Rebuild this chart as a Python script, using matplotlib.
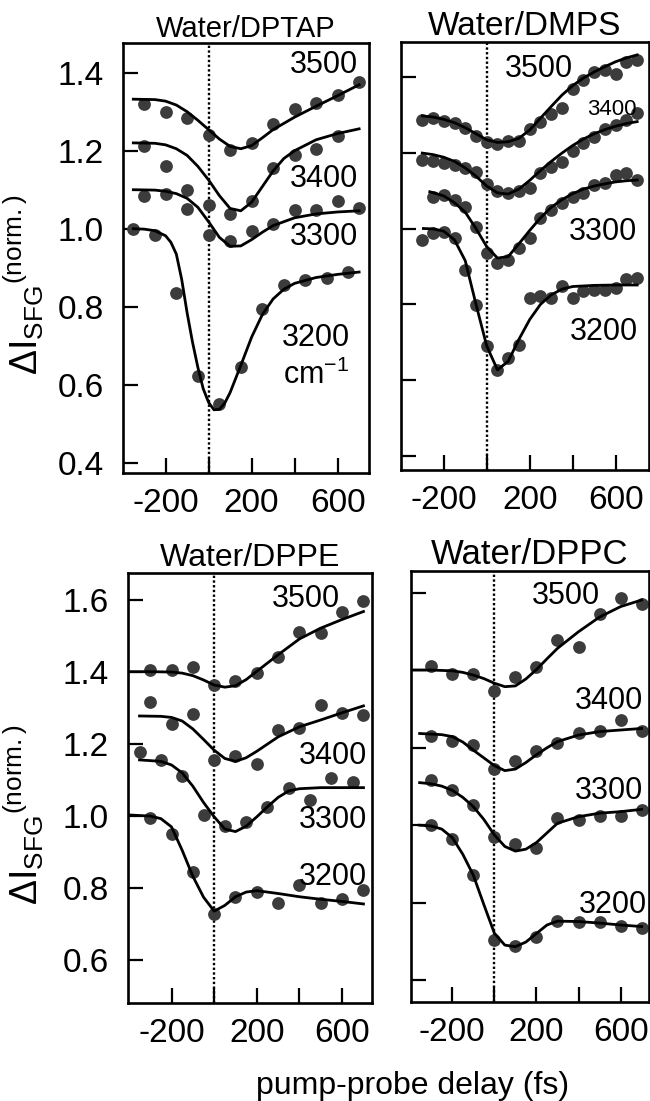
import matplotlib
matplotlib.use("Agg")
import matplotlib.pyplot as plt

plt.rcParams['font.family'] = ['Liberation Sans', 'DejaVu Sans']
plt.rcParams['mathtext.fontset'] = 'custom'
plt.rcParams['mathtext.rm'] = 'Liberation Sans'
plt.rcParams['mathtext.it'] = 'Liberation Sans'

# ---------------- Water/DPTAP ----------------
dptap_t = [-300, -200, -100, 0, 100, 200, 300, 400, 500, 600, 700]
dptap_t_3400 = [-300, -200, -100, 0, 100, 200, 300, 400, 500, 600]
dptap_t_3200 = [-350, -250, -150, -50, 50, 150, 250, 350, 450, 550, 650]
dptap_3500 = [1.320, 1.298, 1.284, 1.241, 1.203, 1.221, 1.268, 1.308, 1.322, 1.344, 1.376]
dptap_3400 = [1.211, 1.162, 1.100, 1.062, 1.038, 1.070, 1.156, 1.190, 1.204, 1.237]
dptap_3300 = [1.085, 1.090, 1.050, 0.983, 0.968, 0.993, 1.013, 1.049, 1.049, 1.070, 1.053]
dptap_3200 = [0.999, 0.985, 0.835, 0.623, 0.551, 0.645, 0.794, 0.855, 0.868, 0.875, 0.888]

dptap_fit_t_3500 = [-350, -250, -200, -150, -100, -50, 0, 50, 100, 150, 200, 250, 300, 400, 500, 600, 700]
dptap_fit_3500 = [1.332, 1.331, 1.327, 1.317, 1.300, 1.278, 1.254, 1.230, 1.211, 1.205, 1.213, 1.233, 1.254, 1.286, 1.314, 1.341, 1.369]
dptap_fit_t_3400 = [-350, -250, -200, -150, -100, -50, 0, 50, 100, 150, 200, 250, 300, 350, 400, 500, 600, 700]
dptap_fit_3400 = [1.220, 1.219, 1.215, 1.205, 1.188, 1.160, 1.125, 1.085, 1.052, 1.046, 1.068, 1.108, 1.148, 1.180, 1.200, 1.228, 1.244, 1.256]
dptap_fit_t_3300 = [-350, -250, -200, -150, -100, -50, 0, 50, 100, 150, 200, 250, 300, 400, 500, 600, 700]
dptap_fit_3300 = [1.100, 1.099, 1.096, 1.090, 1.078, 1.055, 1.018, 0.978, 0.955, 0.956, 0.972, 0.991, 1.008, 1.028, 1.038, 1.043, 1.046]
dptap_fit_t_3200 = [-350, -300, -250, -200, -175, -150, -125, -100, -75, -50, -25, 0, 25, 50, 75, 100, 150,
                    200, 250, 300, 350, 400, 500, 600, 700]
dptap_fit_3200 = [1.000, 0.999, 0.995, 0.982, 0.965, 0.935, 0.870, 0.785, 0.710, 0.645, 0.590, 0.555, 0.536, 0.537,
                  0.553, 0.580, 0.650, 0.722, 0.780, 0.820, 0.845, 0.860, 0.875, 0.883, 0.889]

# ---------------- Water/DMPS ----------------
dmps_t = [-300, -250, -200, -150, -100, -50, 0, 50, 100, 150, 200, 250, 300, 350, 400, 450, 500, 550, 600, 650, 700]
dmps_t_3300 = [-250, -200, -150, -100, -50, 0, 50, 100, 150, 200, 250, 300, 350, 400, 450, 500, 550, 600, 650, 700]
dmps_3500 = [1.285, 1.292, 1.283, 1.278, 1.265, 1.245, 1.228, 1.222, 1.232, 1.232, 1.262, 1.282, 1.302, 1.318, 1.368, 1.392, 1.412, 1.418, 1.408, 1.440, 1.445]
dmps_3400 = [1.181, 1.177, 1.172, 1.168, 1.159, 1.150, 1.118, 1.100, 1.093, 1.100, 1.106, 1.146, 1.163, 1.175, 1.205, 1.225, 1.242, 1.262, 1.272, 1.285, 1.305]
dmps_3300 = [1.084, 1.089, 1.075, 1.058, 1.005, 0.935, 0.908, 0.917, 0.948, 0.974, 1.027, 1.049, 1.067, 1.084, 1.093, 1.115, 1.119, 1.141, 1.146, 1.128]
dmps_3200 = [0.970, 0.988, 0.992, 0.974, 0.891, 0.798, 0.690, 0.628, 0.659, 0.694, 0.817, 0.821, 0.817, 0.848, 0.817, 0.835, 0.839, 0.839, 0.844, 0.866, 0.870]

dmps_fit_t = [-300, -250, -200, -150, -100, -50, 0, 50, 100, 150, 200, 250, 300, 350, 400, 450, 500, 550, 600, 650, 700]
dmps_fit_3500 = [1.297, 1.294, 1.288, 1.279, 1.266, 1.250, 1.234, 1.227, 1.229, 1.238, 1.260, 1.291, 1.322, 1.352, 1.377, 1.397, 1.413, 1.427, 1.440, 1.450, 1.458]
dmps_fit_3400 = [1.199, 1.195, 1.188, 1.177, 1.160, 1.138, 1.112, 1.094, 1.091, 1.104, 1.127, 1.153, 1.177, 1.199, 1.219, 1.236, 1.250, 1.261, 1.270, 1.277, 1.282]
dmps_fit_t_3300 = [-265, -200, -150, -100, -50, 0, 50, 100, 150, 200, 250, 300, 350, 400, 450, 500, 550, 600, 650, 700]
dmps_fit_3300 = [1.097, 1.086, 1.068, 1.043, 1.000, 0.952, 0.922, 0.926, 0.960, 0.995, 1.028, 1.056, 1.076, 1.092, 1.104, 1.112, 1.118, 1.123, 1.126, 1.128]
dmps_fit_t_3200 = [-295, -250, -200, -150, -100, -50, 0, 50, 100, 150, 200, 250, 300, 350, 400, 500, 600, 700]
dmps_fit_3200 = [1.000, 0.999, 0.993, 0.970, 0.915, 0.800, 0.690, 0.627, 0.650, 0.708, 0.760, 0.800, 0.825, 0.840, 0.847, 0.850, 0.851, 0.851]

# ---------------- Water/DPPE ----------------
dppe_t = [-300, -200, -100, 0, 100, 200, 300, 400, 500, 600, 700]
dppe_t_3300 = [-350, -250, -150, -50, 50, 150, 250, 350, 450, 550, 650]
dppe_3500 = [1.406, 1.406, 1.413, 1.364, 1.376, 1.398, 1.441, 1.512, 1.509, 1.566, 1.598]
dppe_3400 = [1.318, 1.256, 1.283, 1.157, 1.167, 1.144, 1.239, 1.244, 1.308, 1.287, 1.281]
dppe_3300 = [1.177, 1.156, 1.111, 1.003, 0.972, 0.984, 1.026, 1.077, 1.046, 1.105, 1.095]
dppe_3200 = [0.994, 0.950, 0.844, 0.728, 0.774, 0.788, 0.759, 0.808, 0.758, 0.771, 0.794]

dppe_fit_t_3500 = [-395, -300, -200, -150, -100, -50, 0, 50, 100, 150, 200, 250, 300, 400, 500, 600, 700]
dppe_fit_3500 = [1.401, 1.401, 1.400, 1.397, 1.390, 1.378, 1.364, 1.358, 1.362, 1.379, 1.402, 1.425, 1.448, 1.492, 1.522, 1.546, 1.568]
dppe_fit_t_3400 = [-350, -250, -200, -150, -100, -50, 0, 50, 100, 150, 200, 250, 300, 400, 500, 600, 700]
dppe_fit_3400 = [1.278, 1.277, 1.274, 1.264, 1.242, 1.213, 1.183, 1.160, 1.152, 1.162, 1.180, 1.200, 1.220, 1.248, 1.267, 1.287, 1.306]
dppe_fit_t_3300 = [-350, -250, -200, -150, -100, -50, 0, 50, 100, 150, 200, 250, 300, 350, 400, 500, 600, 700]
dppe_fit_3300 = [1.156, 1.152, 1.142, 1.120, 1.083, 1.038, 0.998, 0.964, 0.957, 0.972, 0.998, 1.026, 1.052, 1.070, 1.076, 1.079, 1.079, 1.079]
dppe_fit_t_3200 = [-395, -300, -250, -200, -150, -100, -50, 0, 50, 100, 150, 200, 300, 400, 500, 600, 700]
dppe_fit_3200 = [1.003, 1.000, 0.993, 0.970, 0.905, 0.833, 0.775, 0.736, 0.752, 0.776, 0.789, 0.793, 0.785, 0.776, 0.769, 0.763, 0.756]

# ---------------- Water/DPPC ----------------
dppc_t = [-300, -200, -100, 0, 100, 200, 300, 400, 500, 600, 700]
dppc_3500 = [1.411, 1.390, 1.392, 1.347, 1.384, 1.408, 1.479, 1.460, 1.547, 1.586, 1.572]
dppc_3400 = [1.230, 1.218, 1.207, 1.144, 1.167, 1.193, 1.213, 1.239, 1.244, 1.272, 1.244]
dppc_3300 = [1.117, 1.091, 1.052, 0.970, 0.951, 0.940, 1.018, 1.013, 1.024, 1.024, 1.038]
dppc_3200 = [1.000, 0.965, 0.871, 0.703, 0.687, 0.712, 0.753, 0.751, 0.751, 0.740, 0.734]

dppc_fit_t_3500 = [-395, -300, -200, -150, -100, -50, 0, 50, 100, 150, 200, 250, 300, 400, 500, 600, 700]
dppc_fit_3500 = [1.401, 1.401, 1.399, 1.395, 1.388, 1.379, 1.367, 1.358, 1.360, 1.378, 1.402, 1.430, 1.457, 1.500, 1.538, 1.565, 1.582]
dppc_fit_t_3400 = [-355, -250, -200, -150, -100, -50, 0, 50, 100, 150, 200, 250, 300, 400, 500, 600, 700]
dppc_fit_3400 = [1.237, 1.234, 1.229, 1.215, 1.194, 1.174, 1.154, 1.141, 1.145, 1.162, 1.182, 1.200, 1.216, 1.233, 1.242, 1.246, 1.250]
dppc_fit_t = [-355, -300, -250, -200, -150, -100, -50, 0, 50, 100, 150, 200, 250, 300, 400, 500, 600, 700]
dppc_fit_3300 = [1.110, 1.107, 1.101, 1.090, 1.072, 1.048, 1.015, 0.975, 0.945, 0.933, 0.938, 0.955, 0.980, 1.005, 1.022, 1.031, 1.035, 1.041]
dppc_fit_3200 = [1.000, 0.998, 0.990, 0.968, 0.925, 0.871, 0.795, 0.721, 0.690, 0.686, 0.698, 0.720, 0.742, 0.752, 0.751, 0.747, 0.742, 0.738]

freq_labels = ['3500', '3400', '3300', '3200']
x_ticks = [-200, 0, 200, 400, 600]
x_tick_labels = ['-200', '', '200', '', '600']

W, H = 650, 1101
fig = plt.figure(figsize=(W / 100, H / 100), dpi=100)


def px_axes(x0, y0, x1, y1):
    return fig.add_axes([x0 / W, 1 - y1 / H, (x1 - x0) / W, (y1 - y0) / H])


dot_color = '#3c3c3c'


def draw_panel(ax, series, fits, xlim, ylim, yticks, show_ylabels):
    for t, v in series:
        ax.plot(t, v, 'o', color=dot_color, ms=9.2, mec='none', zorder=2)
    for t, v in fits:
        ax.plot(t, v, '-', color='black', lw=2.0, zorder=3)
    ax.axvline(0, color='black', lw=1.7, ls=(0, (1, 1)), zorder=1)
    ax.set_xlim(*xlim)
    ax.set_ylim(*ylim)
    ax.set_xticks(x_ticks)
    ax.set_xticklabels(x_tick_labels)
    ax.set_yticks(yticks)
    if show_ylabels:
        ax.set_yticklabels(['%.1f' % y for y in yticks])
    else:
        ax.set_yticklabels([])
    ax.tick_params(direction='in', length=11, width=1.6, labelsize=24)
    ax.tick_params(axis='x', pad=11)
    ax.tick_params(axis='y', pad=14)
    for s in ax.spines.values():
        s.set_linewidth(1.9)


# top-left
ax1 = px_axes(123, 43, 369, 473)
draw_panel(ax1,
           [(dptap_t, dptap_3500), (dptap_t_3400, dptap_3400), (dptap_t, dptap_3300), (dptap_t_3200, dptap_3200)],
           [(dptap_fit_t_3500, dptap_fit_3500), (dptap_fit_t_3400, dptap_fit_3400),
            (dptap_fit_t_3300, dptap_fit_3300), (dptap_fit_t_3200, dptap_fit_3200)],
           (-398, 746), (0.374, 1.476), [0.4, 0.6, 0.8, 1.0, 1.2, 1.4], True)
ax1.text(693, 1.42, freq_labels[0], ha='right', va='center', fontsize=22)
ax1.text(693, 1.128, freq_labels[1], ha='right', va='center', fontsize=22)
ax1.text(693, 0.978, freq_labels[2], ha='right', va='center', fontsize=22)
ax1.text(656, 0.719, freq_labels[3], ha='right', va='center', fontsize=22)
ax1.text(656, 0.625, 'cm$^{\\mathregular{-1}}$', ha='right', va='center', fontsize=22)
ax1.set_title('Water/DPTAP', fontsize=21, pad=4)

# top-right
ax2 = px_axes(401, 42, 649, 470)
draw_panel(ax2,
           [(dmps_t, dmps_3500), (dmps_t, dmps_3400), (dmps_t_3300, dmps_3300), (dmps_t, dmps_3200)],
           [(dmps_fit_t, dmps_fit_3500), (dmps_fit_t, dmps_fit_3400),
            (dmps_fit_t_3300, dmps_fit_3300), (dmps_fit_t_3200, dmps_fit_3200)],
           (-399, 755), (0.363, 1.492), [0.4, 0.6, 0.8, 1.0, 1.2, 1.4], False)
ax2.text(401, 1.421, freq_labels[0], ha='right', va='center', fontsize=22)
ax2.text(698, 1.313, freq_labels[1], ha='right', va='center', fontsize=16)
ax2.text(700, 0.992, freq_labels[2], ha='right', va='center', fontsize=22)
ax2.text(705, 0.728, freq_labels[3], ha='right', va='center', fontsize=22)
ax2.set_title('Water/DMPS', fontsize=24, pad=2)

# bottom-left
ax3 = px_axes(128, 573, 372, 1003)
draw_panel(ax3,
           [(dppe_t, dppe_3500), (dppe_t, dppe_3400), (dppe_t_3300, dppe_3300), (dppe_t, dppe_3200)],
           [(dppe_fit_t_3500, dppe_fit_3500), (dppe_fit_t_3400, dppe_fit_3400),
            (dppe_fit_t_3300, dppe_fit_3300), (dppe_fit_t_3200, dppe_fit_3200)],
           (-404, 740), (0.481, 1.675), [0.6, 0.8, 1.0, 1.2, 1.4, 1.6], True)
ax3.text(590, 1.603, freq_labels[0], ha='right', va='center', fontsize=22)
ax3.text(716, 1.167, freq_labels[1], ha='right', va='center', fontsize=22)
ax3.text(716, 0.989, freq_labels[2], ha='right', va='center', fontsize=22)
ax3.text(716, 0.832, freq_labels[3], ha='right', va='center', fontsize=22)
ax3.set_title('Water/DPPE', fontsize=23, pad=2)

# bottom-right
ax4 = px_axes(411, 571, 649, 1002)
draw_panel(ax4,
           [(dppc_t, dppc_3500), (dppc_t, dppc_3400), (dppc_t, dppc_3300), (dppc_t, dppc_3200)],
           [(dppc_fit_t_3500, dppc_fit_3500), (dppc_fit_t_3400, dppc_fit_3400),
            (dppc_fit_t, dppc_fit_3300), (dppc_fit_t, dppc_fit_3200)],
           (-396, 735), (0.543, 1.657), [0.6, 0.8, 1.0, 1.2, 1.4, 1.6], False)
ax4.text(502, 1.592, freq_labels[0], ha='right', va='center', fontsize=22)
ax4.text(706, 1.321, freq_labels[1], ha='right', va='center', fontsize=22)
ax4.text(706, 1.088, freq_labels[2], ha='right', va='center', fontsize=22)
ax4.text(725, 0.794, freq_labels[3], ha='right', va='center', fontsize=22)
ax4.set_title('Water/DPPC', fontsize=25, pad=2)

ylab = '$\\mathregular{\u0394I_{SFG}{}^{(norm.)}}$'
fig.text(24 / W, 1 - 285 / H, ylab, rotation=90, ha='center', va='center', fontsize=27)
fig.text(24 / W, 1 - 815 / H, ylab, rotation=90, ha='center', va='center', fontsize=27)
fig.text(413 / W, 1 - 1086 / H, 'pump-probe delay (fs)', ha='center', va='center', fontsize=23)

fig.savefig('out.png', dpi=100)
